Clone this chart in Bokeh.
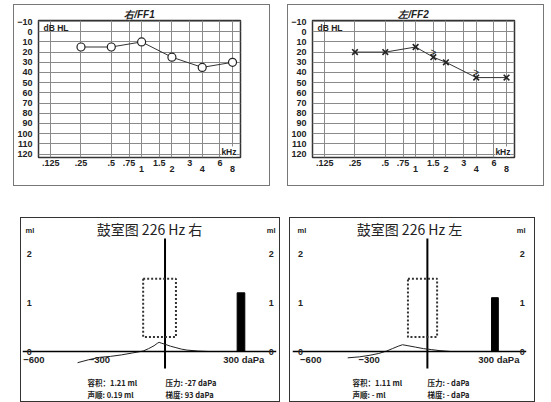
import numpy as np
from bokeh.plotting import figure
from bokeh.models import (Range1d, FixedTicker, LogAxis, LinearAxis, Label, Spacer)
from bokeh.layouts import row, column
from bokeh.embed import file_html
from bokeh.resources import INLINE
from bokeh.core.properties import value

# ---------------- audiogram data ----------------
FREQ_TICKS = [0.125, 0.25, 0.5, 0.75, 1, 1.5, 2, 3, 4, 6, 8]
FREQ_UPPER = [0.125, 0.25, 0.5, 0.75, 1.5, 3, 6]
FREQ_LOWER = [1, 2, 4, 8]
FREQ_LABELS = {0.125: ".125", 0.25: ".25", 0.5: ".5", 0.75: ".75", 1: "1",
               1.5: "1.5", 2: "2", 3: "3", 4: "4", 6: "6", 8: "8"}
DB_TICKS = [-10, 0, 10, 20, 30, 40, 50, 60, 70, 80, 90, 100, 110, 120]

RIGHT_FREQ = [0.25, 0.5, 1, 2, 4, 8]
RIGHT_DB = [15, 15, 10, 25, 35, 30]
LEFT_FREQ = [0.25, 0.5, 1, 1.5, 2, 4, 8]
LEFT_DB = [20, 20, 15, 25, 30, 45, 45]
LEFT_MASK_FREQ = [1.5, 4]
LEFT_MASK_DB = [20, 40]
LEFT_MASK_SYMBOL = [">", ">"]

# ---------------- tympanogram data ----------------
PRESSURE_TICKS = [-600, -300, 300]
ML_TICKS = [0, 1, 2]
R_TYMP_P = [-400, -350, -300, -250, -200, -150, -100, -75, -50, -35, -27, -15, 0, 25, 50, 75, 100, 150, 200]
R_TYMP_ML = [-0.23, -0.17, -0.12, -0.10, -0.07, -0.03, 0.01, 0.06, 0.12, 0.17, 0.19, 0.17, 0.15, 0.11, 0.08, 0.05, 0.03, 0.01, 0.0]
L_TYMP_P = [-410, -350, -300, -250, -210, -180, -150, -128, -100, -60, -20, 20, 60, 120]
L_TYMP_ML = [-0.13, -0.11, -0.08, -0.04, 0.01, 0.06, 0.11, 0.14, 0.12, 0.09, 0.06, 0.04, 0.02, 0.0]
ZERO_LINE_ML = [-0.35, 2.33]
NORM_P = [-100, 50]
NORM_ML = [0.3, 1.5]
VOLUME_BAR_P = [330, 365]
R_VOLUME = [1.21]
L_VOLUME = [1.11]
R_INFO = ["容积：1.21 ml", "压力: -27 daPa", "声顺: 0.19 ml", "梯度: 93 daPa"]
L_INFO = ["容积：1.11 ml", "压力: - daPa", "声顺: - ml", "梯度: - daPa"]

SANS = "Liberation Sans"
CJK = "Noto Sans CJK SC"
INK = "#222222"


def audiogram(title):
    p = figure(width=255, height=180, x_axis_type="log",
               x_range=Range1d(0.0946, 9.6), y_range=Range1d(123.4, -11),
               output_backend="svg", toolbar_location=None,
               min_border_left=24, min_border_right=29, min_border_top=15,
               min_border_bottom=28,
               styles={"outline": "1px solid #777"})
    p.title.text = title
    p.title.align = "center"
    p.title.text_font = SANS
    p.title.text_font_size = "10px"
    p.title.text_font_style = "bold italic"
    p.title.text_color = INK
    p.title.standoff = 1
    p.outline_line_color = "#333333"
    p.outline_line_width = 1.5
    p.background_fill_color = "white"
    p.border_fill_color = "white"

    ya = p.yaxis[0]
    ya.ticker = FixedTicker(ticks=DB_TICKS)
    ya.major_tick_out = 0
    ya.major_tick_in = 0
    ya.minor_tick_out = 0
    ya.axis_line_color = None
    ya.major_label_standoff = 6
    ya.major_label_text_font = SANS
    ya.major_label_text_font_style = "bold"
    ya.major_label_text_font_size = "9px"
    ya.major_label_text_color = INK

    xa = p.xaxis[0]
    xa.ticker = FixedTicker(ticks=FREQ_UPPER)
    xa.major_label_overrides = {k: FREQ_LABELS[k] for k in FREQ_UPPER}
    xa2 = LogAxis(ticker=FixedTicker(ticks=FREQ_LOWER),
                  major_label_overrides={k: FREQ_LABELS[k] for k in FREQ_LOWER})
    p.add_layout(xa2, "below")
    for a, so in ((xa, 2), (xa2, -3)):
        a.major_tick_out = 0
        a.major_tick_in = 0
        a.minor_tick_out = 0
        a.minor_tick_in = 0
        a.axis_line_color = None
        a.major_label_standoff = so
        a.major_label_text_font = SANS
        a.major_label_text_font_style = "bold"
        a.major_label_text_font_size = "9px"
        a.major_label_text_color = INK

    p.xgrid[0].ticker = FixedTicker(ticks=FREQ_TICKS)
    p.ygrid[0].ticker = FixedTicker(ticks=DB_TICKS)
    for g in (p.xgrid[0], p.ygrid[0]):
        g.grid_line_color = "#8a8a8a"
        g.grid_line_width = 1

    p.add_layout(Label(x=5, y=130, x_units="screen", y_units="screen", text="dB HL",
                       text_font=SANS, text_font_style="bold", text_font_size="8.5px",
                       text_baseline="middle", text_color=INK))
    p.add_layout(Label(x=198, y=6, x_units="screen", y_units="screen", text="kHz",
                       text_font=SANS, text_font_style="bold", text_font_size="8.5px",
                       text_baseline="middle", text_align="right", text_color=INK,
                       background_fill_color="white"))
    return p


a_right = audiogram("右/FF1")
a_right.line(RIGHT_FREQ, RIGHT_DB, line_color="#333333", line_width=1)
a_right.scatter(RIGHT_FREQ, RIGHT_DB, marker="circle", size=8, fill_color="white",
                line_color=INK, line_width=1.2)

a_left = audiogram("左/FF2")
a_left.line(LEFT_FREQ, LEFT_DB, line_color="#333333", line_width=1)
a_left.scatter(LEFT_FREQ, LEFT_DB, marker="x", size=8, line_color=INK, line_width=1.6)
a_left.text(x=LEFT_MASK_FREQ, y=LEFT_MASK_DB, text=LEFT_MASK_SYMBOL, text_align="center",
            text_baseline="middle", text_font=value(SANS), text_font_size="10px",
            text_color=INK)


def tympanogram(title, width, border_l, border_r, x_start, left_loc, right_loc,
                pres, ml, volume, info, info_x, ml_x):
    height = 183
    p = figure(width=width, height=height, x_range=Range1d(x_start, 510),
               y_range=Range1d(-1.03, 2.742),
               output_backend="svg", toolbar_location=None,
               x_axis_location=None, y_axis_location=None,
               min_border_left=border_l, min_border_right=border_r,
               min_border_top=0, min_border_bottom=0,
               styles={"outline": "1.5px solid #333"})
    p.title.visible = False
    p.outline_line_color = None
    p.xgrid.visible = False
    p.ygrid.visible = False
    p.background_fill_color = "white"
    p.border_fill_color = "white"

    xa = LinearAxis(fixed_location=0, ticker=FixedTicker(ticks=PRESSURE_TICKS),
                    major_label_overrides={300: "\u00a0" * 10 + "300 daPa"})
    p.add_layout(xa, "below")
    ya_l = LinearAxis(fixed_location=left_loc, ticker=FixedTicker(ticks=ML_TICKS))
    p.add_layout(ya_l, "left")
    ya_r = LinearAxis(fixed_location=right_loc, ticker=FixedTicker(ticks=ML_TICKS))
    p.add_layout(ya_r, "right")
    for a in (xa, ya_l, ya_r):
        a.major_tick_out = 0
        a.major_tick_in = 0
        a.minor_tick_out = 0
        a.minor_tick_in = 0
        a.major_label_standoff = 2
        a.major_label_text_font = SANS
        a.major_label_text_font_style = "bold"
        a.major_label_text_font_size = "9px"
        a.major_label_text_color = INK
    xa.axis_line_color = "black"
    xa.axis_line_width = 1.5
    xa.major_label_text_font_size = "9.5px"
    ya_l.axis_line_color = None
    ya_r.axis_line_color = None

    p.segment(x0=[0], y0=[ZERO_LINE_ML[0]], x1=[0], y1=[ZERO_LINE_ML[1]],
              line_color="black", line_width=2)
    p.quad(left=[NORM_P[0]], right=[NORM_P[1]], bottom=[NORM_ML[0]], top=[NORM_ML[1]],
           fill_color=None, line_color="#333333", line_width=2, line_dash="2 2")
    p.quad(left=[VOLUME_BAR_P[0]], right=[VOLUME_BAR_P[1]], bottom=[0], top=volume,
           fill_color="black", line_color="black")
    p.line(pres, ml, line_color="#222222", line_width=1)

    fw = width - border_l - border_r
    p.add_layout(Label(x=fw / 2, y=173, x_units="screen", y_units="screen", text=title,
                       text_font=CJK, text_font_size="14px", text_align="center",
                       text_baseline="middle", text_color=INK))
    for x, side in ((ml_x[0], "left"), (ml_x[1], "right")):
        p.add_layout(Label(x=x, y=171, x_units="screen", y_units="screen", text="ml",
                           text_font=SANS, text_font_style="bold", text_font_size="7.5px",
                           text_baseline="middle", text_align=side, text_color=INK))
    for i, t in enumerate(info):
        p.add_layout(Label(x=info_x[i % 2], y=19 - 12 * (i // 2), x_units="screen",
                           y_units="screen", text=t, text_font=CJK, text_font_style="bold",
                           text_font_size="7.5px", text_baseline="middle", text_color=INK))
    return p


t_right = tympanogram("鼓室图 226 Hz 右", 258, 1, 3, -652, -600, 465,
                      R_TYMP_P, R_TYMP_ML, R_VOLUME, R_INFO, [65, 143], [3, 253])
t_left = tympanogram("鼓室图 226 Hz 左", 244, 2, 8, -694, -630, 465,
                     L_TYMP_P, L_TYMP_ML, L_VOLUME, L_INFO, [60, 135], [5, 233])

layout = column(
    Spacer(width=10, height=5),
    row(Spacer(width=14, height=180), a_right, Spacer(width=19, height=180), a_left),
    Spacer(width=10, height=33),
    row(Spacer(width=21, height=183), t_right, Spacer(width=11, height=183), t_left),
)

open("out.html", "w").write(file_html(layout, INLINE))
